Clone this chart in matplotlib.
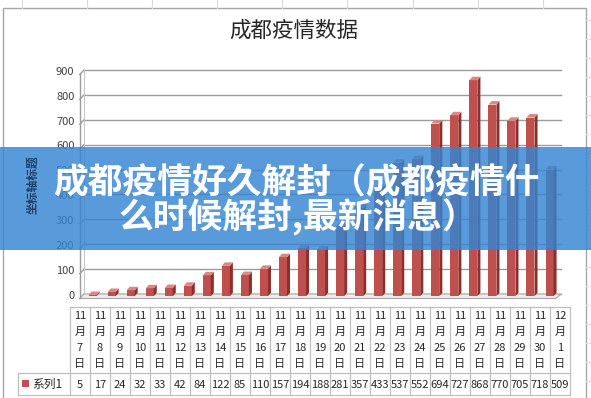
import matplotlib
matplotlib.use("Agg")
import matplotlib.pyplot as plt
from matplotlib.patches import Rectangle, Polygon
import numpy as np

plt.rcParams['font.family'] = ['Noto Sans CJK SC', 'DejaVu Sans']

# ---- data ----
dates = ["11月7日", "11月8日", "11月9日", "11月10日", "11月11日", "11月12日", "11月13日",
         "11月14日", "11月15日", "11月16日", "11月17日", "11月18日", "11月19日", "11月20日",
         "11月21日", "11月22日", "11月23日", "11月24日", "11月25日", "11月26日", "11月27日",
         "11月28日", "11月29日", "11月30日", "12月1日"]
values = [5, 17, 24, 32, 33, 42, 84, 122, 85, 110, 157, 194, 188, 281,
          357, 433, 537, 552, 694, 727, 868, 770, 705, 718, 509]
series_name = "系列1"
yticks = [0, 100, 200, 300, 400, 500, 600, 700, 800, 900]
title = "成都疫情数据"
ylabel = "坐标轴标题"
banner_lines = ["成都疫情好久解封（成都疫情什", "么时候解封,最新消息）"]

W, H = 591, 398
fig = plt.figure(figsize=(W / 100, H / 100), dpi=100)
fig.patch.set_facecolor("white")

def fx(px):
    return px / W

def fy(py):
    return 1 - py / H

# ---- background (spreadsheet grid) ----
bg = fig.add_axes([0, 0, 1, 1])
bg.set_xlim(0, W)
bg.set_ylim(H, 0)
bg.axis("off")
for x in [22, 87, 152, 217, 282, 347, 413, 478, 543]:
    bg.plot([x, x], [0, 8], color="#D9D9D9", lw=0.8)
for y in range(20, 398, 19):
    bg.plot([586, 591], [y, y], color="#E0E0E0", lw=0.8)
bg.add_patch(Rectangle((3, 8), 583, 395, facecolor="white", edgecolor="#A6A6A6", lw=1.0))

# ---- title ----
fig.text(fx(294), fy(31), title, ha="center", va="center", fontsize=15.5, color="#262626")

# ---- plot area ----
left_px, right_px, top_px, bot_px = 84, 560, 70, 294
ax = fig.add_axes([fx(left_px), fy(bot_px), fx(right_px - left_px), (bot_px - top_px) / H])
ax.set_xlim(-0.5, len(values) - 0.5)
ax.set_ylim(0, 900)
ax.axis("off")

# perspective offsets (data units)
dxs = 0.22
dyv = 18
for t in yticks:
    ax.plot([-0.5, len(values) - 0.5 + 0.05], [t, t], color="#9C9C9C", lw=1.0, clip_on=False, zorder=1)
    ax.plot([-0.5 - dxs, -0.5], [t - dyv, t], color="#9C9C9C", lw=1.0, clip_on=False, zorder=1)
    ax.text(-1.0, t - dyv * 0.4, str(t), ha="right", va="center", fontsize=8, color="#404040",
            transform=ax.transData, clip_on=False)
ax.plot([-0.5 - dxs, -0.5 - dxs], [-dyv, 900 - dyv], color="#9C9C9C", lw=1.0, clip_on=False)
ax.plot([-0.5, -0.5], [0, 900], color="#C8C8C8", lw=0.8, clip_on=False)
floor = Polygon([[-0.5 - dxs, -dyv], [len(values) - 0.5 - dxs, -dyv],
                 [len(values) - 0.5 + 0.05, 0], [-0.5, 0]], closed=True,
                facecolor="#EDEDED", edgecolor="#A8A8A8", lw=0.8, clip_on=False, zorder=1)
ax.add_patch(floor)

# bars with simple 3D look
xs = np.arange(len(values))
bw = 0.42
sd = 0.16
sh = 14
ax.bar(xs - 0.05, values, width=bw, bottom=-dyv * 0.5, color="#C0504D", zorder=3, clip_on=False)
for x, v in zip(xs, values):
    x0 = x - 0.05 - bw / 2
    x1 = x - 0.05 + bw / 2
    b = -dyv * 0.5
    side = Polygon([[x1, b], [x1 + sd, b + sh], [x1 + sd, b + v + sh], [x1, b + v]],
                   closed=True, facecolor="#8E2F2C", edgecolor="none", zorder=3, clip_on=False)
    top = Polygon([[x0, b + v], [x1, b + v], [x1 + sd, b + v + sh], [x0 + sd, b + v + sh]],
                  closed=True, facecolor="#D98885", edgecolor="none", zorder=3, clip_on=False)
    ax.add_patch(side)
    ax.add_patch(top)

# y-axis title
fig.text(fx(33), fy(185), ylabel, rotation=90, ha="center", va="center", fontsize=8.5,
         color="#1F3F66", fontweight="bold")

# ---- data table ----
tb = fig.add_axes([0, 0, 1, 1], facecolor="none")
tb.set_xlim(0, W)
tb.set_ylim(H, 0)
tb.axis("off")
col0, colw = 70, 20
tab_top, tab_mid, tab_bot = 307, 373, 395
label_left = 18
n = len(values)
lc = "#BFBFBF"
right_edge = col0 + n * colw
tb.plot([col0, right_edge], [tab_top, tab_top], color=lc, lw=0.9)
tb.plot([label_left, right_edge], [tab_mid, tab_mid], color=lc, lw=0.9)
tb.plot([label_left, right_edge], [tab_bot, tab_bot], color=lc, lw=0.9)
tb.plot([label_left, label_left], [tab_mid, tab_bot], color=lc, lw=0.9)
for i in range(n + 1):
    x = col0 + i * colw
    tb.plot([x, x], [tab_top, tab_bot], color=lc, lw=0.9)
line_ys = [316, 332, 348, 364]
for i, d in enumerate(dates):
    cx = col0 + i * colw + colw / 2
    m, rest = d.split("月")
    day = rest.replace("日", "")
    for txt, yy in zip([m, "月", day, "日"], line_ys):
        tb.text(cx, yy, txt, ha="center", va="center", fontsize=8, color="#262626")
    tb.text(cx, 384.5, str(values[i]), ha="center", va="center", fontsize=8, color="#262626")
tb.add_patch(Rectangle((22, 380), 7, 7, facecolor="#C0504D", edgecolor="none"))
tb.text(32, 384.5, series_name, ha="left", va="center", fontsize=8.5, color="#262626")

# ---- banner overlay ----
ov = fig.add_axes([0, 0, 1, 1], facecolor="none")
ov.set_xlim(0, W)
ov.set_ylim(H, 0)
ov.axis("off")
ov.add_patch(Rectangle((0, 147), W, 103, facecolor="#3485D2", alpha=0.82, edgecolor="none", zorder=10))
ov.text(296, 183, banner_lines[0], ha="center", va="center", fontsize=25, fontweight="heavy",
        color="white", zorder=11)
ov.text(298, 217, banner_lines[1], ha="center", va="center", fontsize=25, fontweight="heavy",
        color="white", zorder=11)

fig.savefig("out.png", dpi=100)
